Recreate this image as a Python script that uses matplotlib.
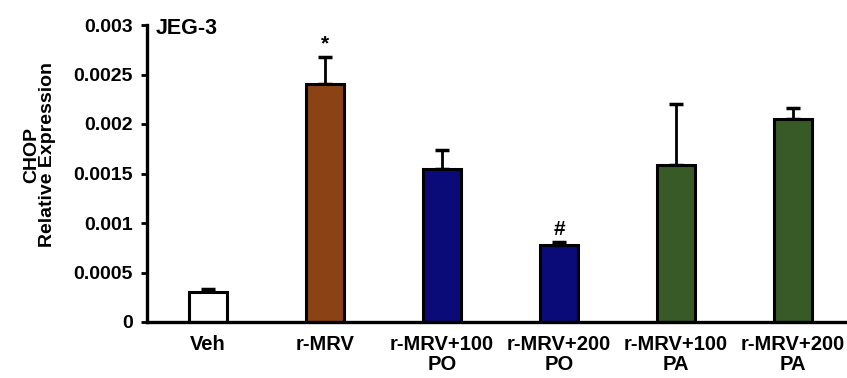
import numpy as np
import matplotlib
matplotlib.use('Agg')
import matplotlib.pyplot as plt

plt.rcParams['font.family'] = ['Liberation Sans', 'DejaVu Sans']
plt.rcParams['font.weight'] = 'bold'

# data
groups = ['Veh', 'r-MRV', 'r-MRV+100\nPO', 'r-MRV+200\nPO', 'r-MRV+100\nPA', 'r-MRV+200\nPA']
means = [0.00030, 0.00240, 0.00155, 0.00078, 0.00159, 0.00205]
errors = [0.00003, 0.00028, 0.00019, 0.00003, 0.00061, 0.00011]
marks = ['', '*', '', '#', '', '']
colors = ['#ffffff', '#8b4214', '#0a0a78', '#0a0a78', '#375a26', '#375a26']
yticks = [0, 0.0005, 0.001, 0.0015, 0.002, 0.0025, 0.003]
ytick_labels = ['0', '0.0005', '0.001', '0.0015', '0.002', '0.0025', '0.003']

fig = plt.figure(figsize=(8.47, 3.78), dpi=100)
ax = fig.add_axes([147/847, 56/378, 700/847, 297/378])

x = np.arange(len(groups))
ax.bar(x, means, width=0.32, color=colors, edgecolor='black', linewidth=2.2, zorder=2)
ax.errorbar(x, means, yerr=[np.zeros(len(errors)), errors], fmt='none',
            ecolor='black', elinewidth=2, capsize=5, capthick=2.5, zorder=1)

for xi, m, e, s in zip(x, means, errors, marks):
    if s:
        ax.text(xi, m + e + 0.00003, s, ha='center', va='bottom', fontsize=15, fontweight='bold')

ax.set_xlim(-0.52, 5.46)
ax.set_ylim(0, 0.003)
ax.set_yticks(yticks)
ax.set_yticklabels(ytick_labels, fontsize=14, fontweight='bold')
ax.set_xticks(x)
ax.set_xticklabels(groups, fontsize=14.5, fontweight='bold', linespacing=1.12)
ax.tick_params(axis='x', length=0, pad=9)
ax.tick_params(axis='y', direction='out', length=4, width=2, pad=6)

for s in ['top', 'right']:
    ax.spines[s].set_visible(False)
for s in ['left', 'bottom']:
    ax.spines[s].set_linewidth(2.4)

ax.text(0.012, 1.025, 'JEG-3', transform=ax.transAxes, ha='left', va='top',
        fontsize=15.5, fontweight='bold')

fig.text(40/847, 1 - 155/378, 'CHOP\nRelative Expression', rotation=90,
         ha='center', va='center', fontsize=14, fontweight='bold', linespacing=0.9)

fig.savefig('out.png', dpi=100)
